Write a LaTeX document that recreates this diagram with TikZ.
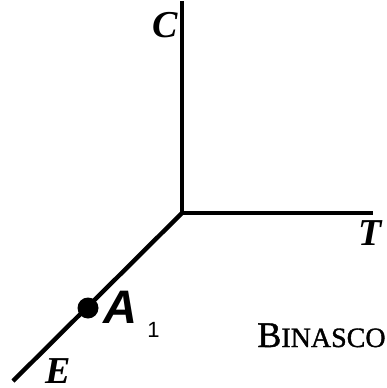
\documentclass[tikz,border=0pt]{standalone}
\usepackage{fontspec}
\setmainfont{Liberation Serif}
\newfontfamily\lsans{Liberation Sans}
\newfontfamily\binfont[FakeBold=1.2]{Liberation Serif}
\begin{document}
\begin{tikzpicture}[x=1pt,y=-1pt,
  axis/.style={line width=4.4pt},
  axlabel/.style={font=\fontsize{38}{38}\selectfont\bfseries\itshape, inner sep=0pt, anchor=base},
]
\useasboundingbox (0,0) rectangle (386,388);
\coordinate (O) at (182,213);
\coordinate (Ctop) at (182,1);
\coordinate (Tend) at (373,213);
\coordinate (Eend) at (13,381);
\draw[axis] (Ctop) -- (O) -- (Tend);
\draw[axis] (O) -- (Eend);
\node[circle, fill=black, minimum size=21pt, inner sep=0pt] (A1dot) at (88,308) {};
\node[axlabel] (C) at (165,37) {C};
\node[axlabel] (T) at (370,245) {T};
\node[axlabel] (E) at (58,383) {E};
\node[font=\lsans\fontsize{47}{47}\selectfont\bfseries\itshape, inner sep=0pt, anchor=base] (A) at (120,323) {A};
\node[font=\lsans\fontsize{22}{22}\selectfont, inner sep=0pt, anchor=base] (one) at (153.5,337) {1};
\node[inner sep=0pt, anchor=base] (bin) at (321.5,347) {\binfont\fontsize{36}{36}\selectfont B\fontsize{28}{28}\selectfont INASCO};
\end{tikzpicture}
\end{document}
